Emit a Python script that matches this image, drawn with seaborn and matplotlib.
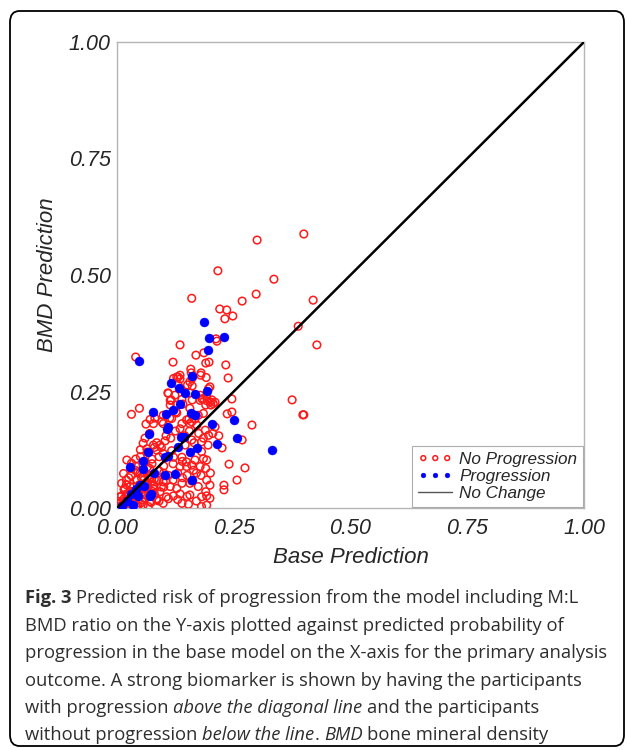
import numpy as np
import pandas as pd
import matplotlib
matplotlib.use("Agg")
import matplotlib.pyplot as plt
import seaborn as sns
from matplotlib.patches import FancyBboxPatch

# participants without progression (base prediction, BMD prediction)
no_prog_x = [0.30, 0.40, 0.216, 0.336, 0.16, 0.298, 0.268, 0.42, 0.22, 0.235, 0.248, 0.231, 0.388, 0.212,
             0.135, 0.04, 0.12, 0.169, 0.186, 0.158, 0.19, 0.131, 0.135, 0.161, 0.18, 0.197, 0.161, 0.109,
             0.156, 0.178, 0.116, 0.126, 0.161, 0.182, 0.193, 0.203, 0.128, 0.141, 0.19, 0.201, 0.081, 0.113,
             0.154, 0.167, 0.428, 0.375, 0.40, 0.214, 0.233, 0.238, 0.21, 0.246, 0.236, 0.246,
             0.289, 0.218, 0.268, 0.225, 0.24, 0.274, 0.257, 0.229, 0.229, 0.398,
             0.128, 0.135, 0.159, 0.179, 0.191, 0.156, 0.151, 0.136, 0.131, 0.121, 0.196, 0.199, 0.11, 0.124,
             0.114, 0.139, 0.178, 0.185, 0.199, 0.206, 0.192, 0.031, 0.048, 0.099, 0.128, 0.114, 0.156, 0.174,
             0.185, 0.149, 0.16, 0.071, 0.078, 0.062, 0.096, 0.099, 0.117, 0.139, 0.156, 0.171, 0.189, 0.21,
             0.196, 0.16, 0.181, 0.146, 0.103, 0.092, 0.078, 0.056, 0.064, 0.085, 0.099, 0.117, 0.121, 0.139,
             0.149, 0.167, 0.185, 0.192, 0.181, 0.135, 0.149, 0.164, 0.178, 0.192, 0.199, 0.174, 0.156, 0.139,
             0.128, 0.114, 0.099, 0.085, 0.074, 0.056, 0.049, 0.039, 0.031, 0.021, 0.014, 0.01, 0.017, 0.028,
             0.042, 0.064, 0.078, 0.092, 0.106, 0.121, 0.135, 0.156, 0.181, 0.192, 0.199, 0.139, 0.153, 0.192,
             0.181, 0.099, 0.085, 0.071, 0.056, 0.042, 0.006, 0.0, 0.01, 0.003, 0.0, 0.028, 0.039, 0.053,
             0.06, 0.046, 0.035, 0.024, 0.017, 0.067,
             0.005, 0.008, 0.012, 0.015, 0.018, 0.02, 0.022, 0.025, 0.028, 0.03, 0.033, 0.035, 0.038, 0.04,
             0.043, 0.045, 0.048, 0.05, 0.052, 0.055, 0.058, 0.06, 0.063, 0.065, 0.068, 0.07, 0.073, 0.075,
             0.078, 0.08, 0.01, 0.02, 0.03, 0.04, 0.05, 0.06, 0.07, 0.08, 0.09, 0.1, 0.015, 0.025, 0.035,
             0.045, 0.055, 0.065, 0.075, 0.085, 0.095, 0.105,
             0.06, 0.07, 0.08, 0.09, 0.1, 0.11, 0.12, 0.13, 0.14, 0.15, 0.16, 0.17, 0.18, 0.19, 0.2,
             0.065, 0.075, 0.085, 0.095, 0.105, 0.115, 0.125, 0.135, 0.145, 0.155, 0.165, 0.175, 0.185, 0.195,
             0.205, 0.09, 0.11, 0.13, 0.15, 0.17, 0.19, 0.1, 0.12, 0.14, 0.16, 0.02, 0.03, 0.04, 0.05, 0.06,
             0.07, 0.08, 0.09, 0.025, 0.045]
no_prog_y = [0.575, 0.588, 0.509, 0.491, 0.45, 0.459, 0.444, 0.446, 0.427, 0.425, 0.412, 0.406, 0.39, 0.363,
             0.35, 0.324, 0.313, 0.328, 0.333, 0.298, 0.311, 0.281, 0.277, 0.279, 0.29, 0.313, 0.262, 0.247,
             0.247, 0.242, 0.232, 0.206, 0.232, 0.234, 0.23, 0.232, 0.221, 0.223, 0.221, 0.221, 0.193, 0.193,
             0.191, 0.191, 0.35, 0.232, 0.20, 0.358, 0.307, 0.279, 0.227, 0.234, 0.202, 0.206,
             0.178, 0.155, 0.146, 0.129, 0.094, 0.086, 0.06, 0.049, 0.039, 0.2,
             0.281, 0.285, 0.29, 0.285, 0.28, 0.271, 0.264, 0.256, 0.264, 0.278, 0.256, 0.26, 0.246, 0.242,
             0.231, 0.233, 0.231, 0.235, 0.228, 0.224, 0.239, 0.201, 0.214, 0.199, 0.204, 0.221, 0.214, 0.199,
             0.203, 0.189, 0.185, 0.19, 0.181, 0.18, 0.185, 0.181, 0.192, 0.181, 0.181, 0.178, 0.167, 0.174,
             0.156, 0.146, 0.142, 0.135, 0.144, 0.135, 0.135, 0.139, 0.127, 0.124, 0.117, 0.123, 0.109, 0.109,
             0.099, 0.103, 0.106, 0.103, 0.121, 0.089, 0.089, 0.081, 0.089, 0.06, 0.049, 0.046, 0.053, 0.053,
             0.042, 0.046, 0.056, 0.06, 0.064, 0.067, 0.074, 0.081, 0.096, 0.103, 0.074, 0.053, 0.042, 0.046,
             0.06, 0.049, 0.042, 0.035, 0.024, 0.026, 0.03, 0.028, 0.024, 0.026, 0.021, 0.01, 0.008, 0.006,
             0.003, 0.01, 0.017, 0.014, 0.006, 0.003, 0.024, 0.01, 0.003, 0.014, 0.003, 0.017, 0.014, 0.017,
             0.028, 0.039, 0.035, 0.028, 0.017, 0.003,
             0.004, 0.012, 0.006, 0.02, 0.01, 0.03, 0.016, 0.008, 0.036, 0.022, 0.012, 0.045, 0.028, 0.018,
             0.06, 0.034, 0.05, 0.01, 0.066, 0.04, 0.075, 0.02, 0.055, 0.088, 0.03, 0.07, 0.012, 0.095,
             0.048, 0.062, 0.026, 0.05, 0.07, 0.09, 0.11, 0.1, 0.085, 0.04, 0.06, 0.075, 0.04, 0.065, 0.015,
             0.078, 0.03, 0.052, 0.036, 0.02, 0.045, 0.058,
             0.05, 0.065, 0.03, 0.08, 0.045, 0.07, 0.06, 0.075, 0.065, 0.07, 0.058, 0.075, 0.07, 0.085, 0.075,
             0.12, 0.105, 0.14, 0.13, 0.155, 0.15, 0.165, 0.17, 0.155, 0.165, 0.14, 0.16, 0.15, 0.135,
             0.16, 0.015, 0.02, 0.018, 0.025, 0.015, 0.035, 0.09, 0.095, 0.1, 0.092, 0.06, 0.085, 0.105, 0.125,
             0.15, 0.16, 0.13, 0.11, 0.01, 0.005]

# participants with progression
prog_x = [0.186, 0.197, 0.229, 0.195, 0.047, 0.331, 0.251, 0.256, 0.214, 0.172, 0.16, 0.203, 0.192, 0.167,
          0.146, 0.161, 0.133, 0.115, 0.134, 0.119, 0.158, 0.167, 0.104, 0.077, 0.11, 0.106, 0.069, 0.136,
          0.144, 0.156, 0.131, 0.066, 0.055, 0.028, 0.056, 0.103, 0.11, 0.103, 0.125, 0.08, 0.058, 0.046,
          0.071, 0.072, 0.021, 0.034, 0.01, 0.03, 0.04, 0.05]
prog_y = [0.40, 0.365, 0.367, 0.339, 0.316, 0.124, 0.189, 0.151, 0.137, 0.129, 0.06, 0.181, 0.251, 0.244,
          0.246, 0.283, 0.258, 0.269, 0.223, 0.21, 0.204, 0.199, 0.201, 0.205, 0.174, 0.169, 0.159, 0.153,
          0.153, 0.121, 0.13, 0.121, 0.101, 0.089, 0.084, 0.11, 0.111, 0.071, 0.073, 0.076, 0.047, 0.026,
          0.026, 0.03, 0.014, 0.006, 0.005, 0.03, 0.04, 0.05]

diag = [0.0, 1.0]
ticks = [0.0, 0.25, 0.5, 0.75, 1.0]
tick_labels = ["0.00", "0.25", "0.50", "0.75", "1.00"]

caption = [
    [("Fig. 3", "bold", "normal", False), ("Predicted risk of progression from the model including M:L", "normal", "normal", True)],
    [("BMD ratio on the Y-axis plotted against predicted probability of", "normal", "normal", False)],
    [("progression in the base model on the X-axis for the primary analysis", "normal", "normal", False)],
    [("outcome. A strong biomarker is shown by having the participants", "normal", "normal", False)],
    [("with progression", "normal", "normal", False), ("above the diagonal line", "normal", "italic", True),
     ("and the participants", "normal", "normal", True)],
    [("without progression", "normal", "normal", False), ("below the line", "normal", "italic", True),
     (".", "normal", "normal", False), ("BMD", "normal", "italic", True), ("bone mineral density", "normal", "normal", True)],
]

sns.set_style("white")
plt.rcParams["font.family"] = ["Liberation Sans", "DejaVu Sans"]

fig = plt.figure(figsize=(6.27, 7.5), dpi=100)
ax = fig.add_axes([117 / 627, 1 - 508 / 750, 467 / 627, 466 / 750])

df_no = pd.DataFrame({"base": no_prog_x, "bmd": no_prog_y})
df_pr = pd.DataFrame({"base": prog_x, "bmd": prog_y})

sns.scatterplot(data=df_no, x="base", y="bmd", ax=ax, marker="o", s=30,
                facecolor="none", edgecolor="#ff1a1a", linewidth=1.1, label="No Progression", zorder=3)
sns.scatterplot(data=df_pr, x="base", y="bmd", ax=ax, marker="o", s=42,
                color="#0000ff", edgecolor="#0000ff", linewidth=0.3, label="Progression", zorder=4)
sns.lineplot(x=diag, y=diag, ax=ax, color="black", linewidth=1.8, label="No Change", zorder=5)

ax.set_xlim(0, 1)
ax.set_ylim(0, 1)
ax.set_xticks(ticks)
ax.set_yticks(ticks)
ax.set_xticklabels(tick_labels, fontstyle="italic", fontsize=15.5)
ax.set_yticklabels(tick_labels, fontstyle="italic", fontsize=15.5, va="center_baseline")
ax.tick_params(axis="both", length=4, width=0.8, color="#9a9a9a", pad=0.5, direction="out")
ax.tick_params(axis="x", pad=3)
ax.set_xlabel("Base Prediction", fontstyle="italic", fontsize=16, labelpad=6)
ax.set_ylabel("BMD Prediction", fontstyle="italic", fontsize=16, labelpad=8)
for sp in ax.spines.values():
    sp.set_color("#b5b5b5")
    sp.set_linewidth(1.0)

leg = ax.legend(loc="lower right", scatterpoints=3, scatteryoffsets=[0.5], fontsize=12.3,
                frameon=True, fancybox=False, borderaxespad=0.05, handlelength=2.0,
                handletextpad=0.4, labelspacing=0.12, borderpad=0.35)
leg.get_frame().set_edgecolor("#9a9a9a")
leg.get_frame().set_linewidth(0.8)
for t in leg.get_texts():
    t.set_fontstyle("italic")
for h in leg.legend_handles:
    if hasattr(h, "set_sizes"):
        h.set_sizes([12])
    else:
        h.set_color("#555555")
        h.set_linewidth(1.0)

# caption text, drawn run by run so bold/italic spans sit inline
renderer = fig.canvas.get_renderer()
cap_kw = dict(fontsize=13.2, family="Open Sans", color="#2e2e2e", va="center")
probe1 = fig.text(0, 0, "x x", **cap_kw)
probe2 = fig.text(0, 0, "xx", **cap_kw)
space_w = (probe1.get_window_extent(renderer).width - probe2.get_window_extent(renderer).width) / fig.bbox.width
probe1.remove()
probe2.remove()

line_y = [598, 626, 653, 681, 708, 735]
for runs, ypx in zip(caption, line_y):
    xpos = 25 / 627
    for txt, weight, style, gap in runs:
        if gap:
            xpos += space_w
        t = fig.text(xpos, 1 - ypx / 750, txt, fontweight=weight, fontstyle=style, **cap_kw)
        xpos += t.get_window_extent(renderer).width / fig.bbox.width

border = FancyBboxPatch((10 / 627, 4 / 750), 614 / 627, 735 / 750,
                        boxstyle="round,pad=0,rounding_size=0.015", transform=fig.transFigure,
                        facecolor="none", edgecolor="black", linewidth=1.3)
fig.patches.append(border)

fig.savefig("out.png", dpi=100)
